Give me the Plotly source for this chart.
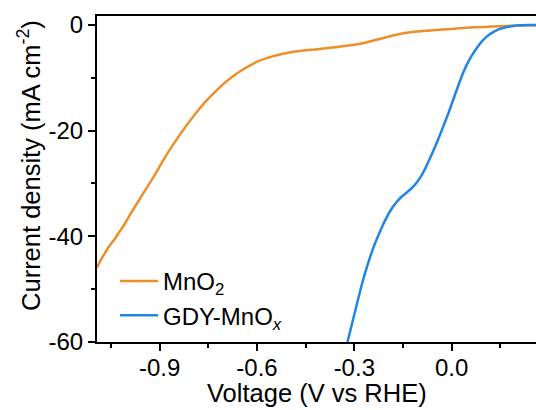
import plotly.graph_objects as go

# MnO2 polarization curve
mno2_v = [-1.093, -1.084, -1.060, -1.042, -1.035, -1.028, -1.010, -0.992, -0.956, -0.919,
          -0.884, -0.848, -0.817, -0.786, -0.760, -0.730, -0.704, -0.680, -0.653, -0.601,
          -0.550, -0.500, -0.450, -0.400, -0.350, -0.300, -0.263, -0.211, -0.160, -0.108,
          -0.057, 0.000, 0.046, 0.100, 0.149, 0.200, 0.260]
mno2_j = [-45.9, -44.8, -42.3, -40.8, -40.2, -39.5, -37.9, -36.0, -32.4, -28.8,
          -25.1, -21.7, -19.0, -16.5, -14.6, -12.7, -11.2, -10.0, -8.8, -7.0,
          -5.9, -5.2, -4.8, -4.5, -4.15, -3.75, -3.3, -2.45, -1.7, -1.25,
          -0.99, -0.75, -0.53, -0.36, -0.23, -0.10, -0.05]

# GDY-MnOx polarization curve
gdy_v = [-0.321, -0.300, -0.274, -0.244, -0.223, -0.202, -0.182, -0.168, -0.156, -0.140,
         -0.125, -0.110, -0.095, -0.080, -0.065, -0.050, -0.036, -0.010, 0.015, 0.030,
         0.046, 0.062, 0.077, 0.092, 0.108, 0.128, 0.149, 0.170, 0.190, 0.215,
         0.240, 0.260]
gdy_j = [-60.0, -54.8, -48.5, -42.6, -39.4, -36.6, -34.5, -33.4, -32.6, -31.8,
         -31.0, -30.0, -28.7, -27.0, -25.0, -22.9, -20.8, -16.7, -12.4, -9.9,
         -7.6, -5.8, -4.4, -3.2, -2.2, -1.35, -0.75, -0.38, -0.18, -0.06,
         -0.01, 0.0]

x_ticks = [-0.9, -0.6, -0.3, 0.0]
x_tick_text = ["-0.9", "-0.6", "-0.3", "0.0"]
y_ticks = [0, -20, -40, -60]
y_tick_text = ["0", "-20", "-40", "-60"]

FONT = "Liberation Sans, Arial, sans-serif"
FS = 24
FT = 25.5

fig = go.Figure()
fig.add_trace(go.Scatter(x=mno2_v, y=mno2_j, mode="lines", name="MnO<sub>2</sub>",
                         line=dict(color="#EE8E2B", width=2.5, shape="spline", smoothing=0.6)))
fig.add_trace(go.Scatter(x=gdy_v, y=gdy_j, mode="lines", name="GDY-MnO<sub><i>x</i></sub>",
                         line=dict(color="#2285E4", width=2.5, shape="spline", smoothing=0.6)))

fig.update_layout(
    width=536, height=410,
    margin=dict(l=97, r=0, t=16, b=68),
    paper_bgcolor="white", plot_bgcolor="white",
    font=dict(family=FONT, size=FS, color="black"),
    showlegend=True,
    legend=dict(x=0.041, y=0.255, xanchor="left", yanchor="top",
                bgcolor="rgba(0,0,0,0)", font=dict(size=FS), itemwidth=38,
                tracegroupgap=0),
)
fig.update_xaxes(
    range=[-1.093, 0.26], showgrid=False, zeroline=False,
    showline=True, linecolor="black", linewidth=2, mirror=True,
    ticks="outside", ticklen=7, tickwidth=2, tickcolor="black",
    tickvals=x_ticks, ticktext=x_tick_text, ticklabelstandoff=-4,
    minor=dict(dtick=0.15, tick0=0, ticks="outside", ticklen=4, tickwidth=2, tickcolor="black"),
    tickfont=dict(size=FS),
)
fig.update_yaxes(
    range=[-60, 1.7], showgrid=False, zeroline=False,
    showline=True, linecolor="black", linewidth=2, mirror=False,
    ticks="outside", ticklen=7, tickwidth=2, tickcolor="black",
    tickvals=y_ticks, ticktext=y_tick_text,
    minor=dict(dtick=10, tick0=0, ticks="outside", ticklen=4, tickwidth=2, tickcolor="black"),
    tickfont=dict(size=FS),
)
fig.add_annotation(text="Current density (mA cm<sup>-2</sup>)", xref="paper", yref="paper",
                   x=0, y=0.54, xshift=-68, xanchor="center", yanchor="middle",
                   textangle=-90, showarrow=False, font=dict(size=FT))
fig.add_annotation(text="Voltage (V vs RHE)", xref="paper", yref="paper",
                   x=0.5, y=-0.156, xanchor="center", yanchor="middle",
                   showarrow=False, font=dict(size=FT))

fig.write_html("out.html")
